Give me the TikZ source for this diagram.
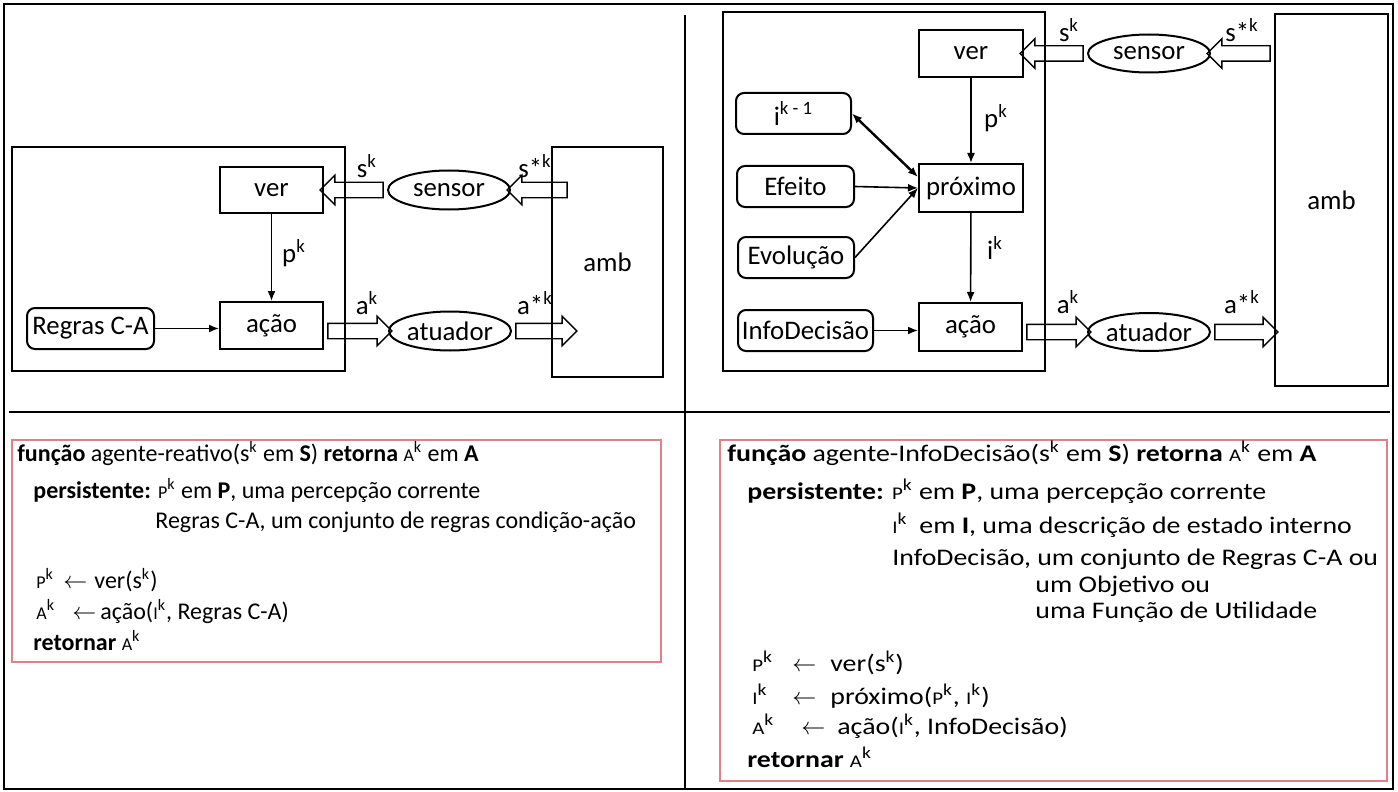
\documentclass[tikz,border=0pt]{standalone}
\usepackage{fontspec}
\setmainfont{Carlito}
\newfontfamily\widefont[FakeStretch=1.17]{Carlito}
\usetikzlibrary{arrows.meta, calc, shapes.geometric, shapes.arrows}

\definecolor{codeframe}{RGB}{226,128,138}
\newcommand{\kap}[1]{\scalebox{0.75}{#1}}
\newcommand{\fatarrow}[3]{%
  \path let \p1=(#2), \p2=(#3),
    \n1={veclen(\x2-\x1,\y2-\y1)}, \n2={atan2(\y2-\y1,\x2-\x1)} in
    node[fat, minimum height=\n1, rotate=\n2] (#1) at ($(\p1)!0.5!(\p2)$) {};}

\begin{document}
\begin{tikzpicture}[x=0.5pt, y=-0.5pt,
  blk/.style={draw, line width=1pt, inner sep=0pt, font=\fontsize{13.4}{16}\selectfont},
  roundblk/.style={blk, rounded corners=4pt},
  oval/.style={blk, ellipse},
  lbl/.style={inner sep=0pt, font=\fontsize{13.4}{16}\selectfont},
  arr/.style={-{Latex[length=5pt,width=4pt]}, line width=0.8pt},
  fat/.style={draw, single arrow, line width=0.7pt, inner xsep=0pt, inner ysep=3.5pt,
    single arrow head extend=3.5pt, single arrow tip angle=90, minimum width=0pt},
  frame/.style={line width=0.8pt},
  code/.style={anchor=base west, inner sep=0pt, font=\fontsize{12}{14}\selectfont},
  widecode/.style={anchor=base west, inner sep=0pt, font=\widefont\fontsize{11.9}{14}\selectfont},
  codebox/.style={draw=codeframe, line width=0.7pt}]

\useasboundingbox (0,0) rectangle (1398,792);
\draw[frame] (4,4) rectangle (1393,789);
\draw[frame] (685,15) -- (685,789);
\draw[frame] (9,412) -- (1390,412);

% left: reactive agent
\draw[line width=1pt] (12,147) rectangle (345,371);
\node[blk, minimum width=51.5pt, minimum height=22.5pt] (verL) at (271.5,190) {ver};
\node[blk, minimum width=51.5pt, minimum height=23.5pt] (acaoL) at (271.5,325.5) {ação};
\node[roundblk, minimum width=63.5pt, minimum height=20.5pt] (regrasL) at (90.5,328.5) {Regras C-A};
\node[oval, minimum width=61pt, minimum height=19.5pt] (sensorL) at (449,190) {sensor};
\node[oval, minimum width=61pt, minimum height=19.5pt] (atuadorL) at (450,331) {atuador};
\node[blk, minimum width=55.5pt, minimum height=115pt] (ambL) at (607.5,262) {amb};

\coordinate (sinL) at ($(ambL.west |- sensorL)+(20,0)$);
\coordinate (aoutL) at ($(ambL.west |- atuadorL)+(22,0)$);

\draw[arr] (verL) -- (acaoL);
\draw[arr] (regrasL.east) -- (regrasL.east -| acaoL.west);
\fatarrow{fsL}{sinL}{sensorL.east}
\fatarrow{fvL}{sensorL.west}{verL.east}
\fatarrow{faL}{acaoL.east |- atuadorL.west}{atuadorL.west}
\fatarrow{fbL}{atuadorL.east}{aoutL}

\node[lbl] (skL) at (367,166) {s\textsuperscript{k}};
\node[lbl] (sskL) at (535,166) {s*\textsuperscript{k}};
\node[lbl] (pkL) at (294,253) {p\textsuperscript{k}};
\node[lbl] (akL) at (367,303) {a\textsuperscript{k}};
\node[lbl] (aakL) at (535,303) {a*\textsuperscript{k}};

% right: agent with internal state
\draw[line width=1pt] (723,12) rectangle (1045,371);
\node[blk, minimum width=52pt, minimum height=23.5pt] (verR) at (971,53.5) {ver};
\node[blk, minimum width=52pt, minimum height=24pt] (proxR) at (971,188) {próximo};
\node[blk, minimum width=51.5pt, minimum height=24pt] (acaoR) at (970.5,327) {ação};
\node[roundblk, minimum width=57.5pt, minimum height=20.5pt] (ikR) at (793.5,113.5) {i\textsuperscript{k - 1}};
\node[roundblk, minimum width=58.5pt, minimum height=20.5pt] (efeitoR) at (795.5,186.5) {Efeito};
\node[roundblk, minimum width=58pt, minimum height=20.5pt] (evolR) at (796,257.5) {Evolução};
\node[roundblk, minimum width=67.5pt, minimum height=20.5pt] (infoR) at (805.5,330.5) {InfoDecisão};
\node[oval, minimum width=61pt, minimum height=19pt] (sensorR) at (1149,53.5) {sensor};
\node[oval, minimum width=61pt, minimum height=19pt] (atuadorR) at (1149,332) {atuador};
\node[blk, minimum width=56.5pt, minimum height=186pt] (ambR) at (1331.5,200) {amb};

\draw[arr] (verR) -- (proxR);
\draw[arr] (proxR) -- (acaoR);
\draw[{Latex[length=5pt,width=4pt]}-{Latex[length=5pt,width=4pt]}, line width=1.2pt] (ikR.east) -- ([yshift=5.5pt]proxR.west);
\draw[arr] (efeitoR.east) -- (proxR.west);
\draw[arr] (evolR.east) -- (proxR.west);
\draw[arr] (infoR.east) -- (infoR.east -| acaoR.west);
\fatarrow{fsR}{ambR.west |- sensorR}{sensorR.east}
\fatarrow{fvR}{sensorR.west}{verR.east}
\fatarrow{faR}{acaoR.east |- atuadorR.west}{atuadorR.west}
\fatarrow{fbR}{atuadorR.east}{ambR.west |- atuadorR}

\node[lbl] (skR) at (1069,30) {s\textsuperscript{k}};
\node[lbl] (sskR) at (1242,30) {s*\textsuperscript{k}};
\node[lbl] (pkR) at (996,118) {p\textsuperscript{k}};
\node[lbl] (ikkR) at (995,248) {i\textsuperscript{k}};
\node[lbl] (akR) at (1068,302) {a\textsuperscript{k}};
\node[lbl] (aakR) at (1242,302) {a*\textsuperscript{k}};

% code boxes
\draw[codebox] (12,440) rectangle (661,662);
\node[code] (cL1) at (17,461) {\textbf{função} agente-reativo(s\textsuperscript{k} em \textbf{S}) \textbf{retorna} \kap{A}\textsuperscript{k} em \textbf{A}};
\node[code] (cL2) at (33,498) {\textbf{persistente:} \kap{P}\textsuperscript{k} em \textbf{P}, uma percepção corrente};
\node[code] (cL3) at (155,528) {Regras C-A, um conjunto de regras condição-ação};
\node[code] (cL4) at (36,588) {\makebox[13.5pt][l]{\kap{P}\textsuperscript{k}}\makebox[15.5pt][l]{$\leftarrow$}ver(s\textsuperscript{k})};
\node[code] (cL5) at (36,619) {\makebox[18pt][l]{\kap{A}\textsuperscript{k}}\makebox[14pt][l]{$\leftarrow$}ação(\kap{I}\textsuperscript{k}, Regras C-A)};
\node[code] (cL6) at (33,650) {\textbf{retornar} \kap{A}\textsuperscript{k}};

\draw[codebox] (720,440) rectangle (1387,781);
\node[widecode] (cR1) at (727,461) {\textbf{função} agente-InfoDecisão(s\textsuperscript{k} em \textbf{S}) \textbf{retorna} \kap{A}\textsuperscript{k} em \textbf{A}};
\node[widecode] (cR2) at (747,499) {\textbf{persistente:} \kap{P}\textsuperscript{k} em \textbf{P}, uma percepção corrente};
\node[widecode] (cR3) at (892,533) {\makebox[13.5pt][l]{\kap{I}\textsuperscript{k}}em \textbf{I}, uma descrição de estado interno};
\node[widecode] (cR4) at (892,565) {InfoDecisão, um conjunto de Regras C-A ou};
\node[widecode] (cR5) at (1035,592) {um Objetivo ou};
\node[widecode] (cR6) at (1035,618) {uma Função de Utilidade};
\node[widecode] (cR7) at (752,671) {\makebox[20pt][l]{\kap{P}\textsuperscript{k}}\makebox[19pt][l]{$\leftarrow$}ver(s\textsuperscript{k})};
\node[widecode] (cR8) at (752,704) {\makebox[20pt][l]{\kap{I}\textsuperscript{k}}\makebox[19pt][l]{$\leftarrow$}próximo(\kap{P}\textsuperscript{k}, \kap{I}\textsuperscript{k})};
\node[widecode] (cR9) at (752,734) {\makebox[24.5pt][l]{\kap{A}\textsuperscript{k}}\makebox[18pt][l]{$\leftarrow$}ação(\kap{I}\textsuperscript{k}, InfoDecisão)};
\node[widecode] (cR10) at (747,767) {\textbf{retornar} \kap{A}\textsuperscript{k}};
\end{tikzpicture}
\end{document}
